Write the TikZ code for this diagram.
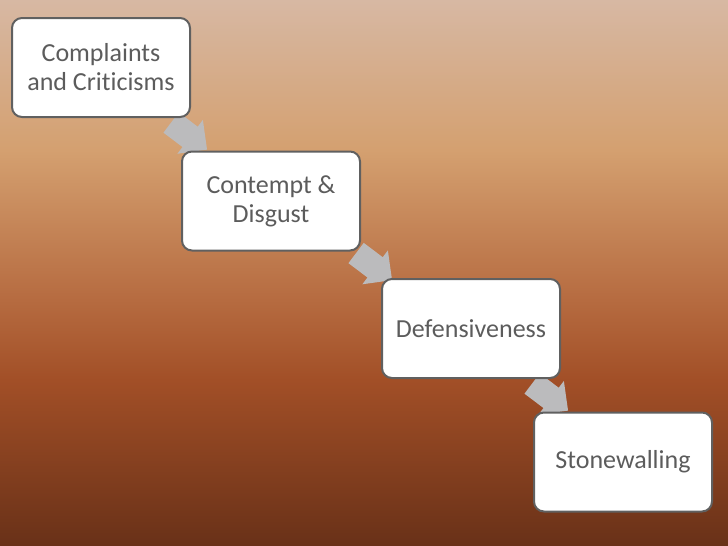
\documentclass[tikz,border=0pt]{standalone}
\usepackage{fontspec}
\setmainfont{Carlito}[Ligatures=NoCommon]
\usetikzlibrary{shapes.arrows,calc}

\definecolor{boxline}{HTML}{606060}
\definecolor{boxtext}{HTML}{5C5C5C}
\definecolor{arrowgray}{HTML}{BBBBBD}
\definecolor{bgA}{HTML}{D7B8A3}
\definecolor{bgB}{HTML}{D4A070}
\definecolor{bgC}{HTML}{B66B40}
\definecolor{bgD}{HTML}{A24F27}
\definecolor{bgE}{HTML}{693118}

\pgfdeclarelayer{bglayer}
\pgfdeclarelayer{arrowlayer}
\pgfsetlayers{bglayer,arrowlayer,main}

\begin{document}
\begin{tikzpicture}[x=1pt, y=-1pt,
    stagebox/.style={draw=boxline, line width=2pt, fill=white, rounded corners=10pt,
        minimum width=178pt, minimum height=99pt, align=center, text=boxtext,
        font=\fontsize{26}{29}\selectfont},
    blockarrow/.style={single arrow, fill=arrowgray, draw=none, inner xsep=0pt,
        inner ysep=12.5pt, minimum height=45pt, single arrow head extend=8.5pt,
        single arrow tip angle=90, rotate=-37}]

    % Hintergrund
    \begin{pgfonlayer}{bglayer}
        \fill[top color=bgA, bottom color=bgB] (0,0) rectangle (728,150);
        \fill[top color=bgB, bottom color=bgC] (0,150) rectangle (728,300);
        \fill[top color=bgC, bottom color=bgD] (0,300) rectangle (728,380);
        \fill[top color=bgD, bottom color=bgE] (0,380) rectangle (728,546);
    \end{pgfonlayer}
    \useasboundingbox (0,0) rectangle (728,546);

    % Stufen
    \node[stagebox] (complaints) at (101,67.5) {Complaints\\and Criticisms};
    \node[stagebox] (contempt) at (271,201) {Contempt \&\\Disgust};
    \node[stagebox] (defensive) at (471,328.5) {Defensiveness};
    \node[stagebox] (stonewall) at (623,462) {Stonewalling};

    % Pfeile zwischen den Stufen
    \begin{pgfonlayer}{arrowlayer}
        \node[blockarrow] (arrA) at ($(complaints.south east)!0.5!(contempt.north west)+(-2,-2)$) {};
        \node[blockarrow] (arrB) at ($(contempt.south east)!0.5!(defensive.north west)+(-2,-2)$) {};
        \node[blockarrow] (arrC) at ($(defensive.south east)!0.5!(stonewall.north west)+(-2,-2)$) {};
    \end{pgfonlayer}
\end{tikzpicture}
\end{document}
